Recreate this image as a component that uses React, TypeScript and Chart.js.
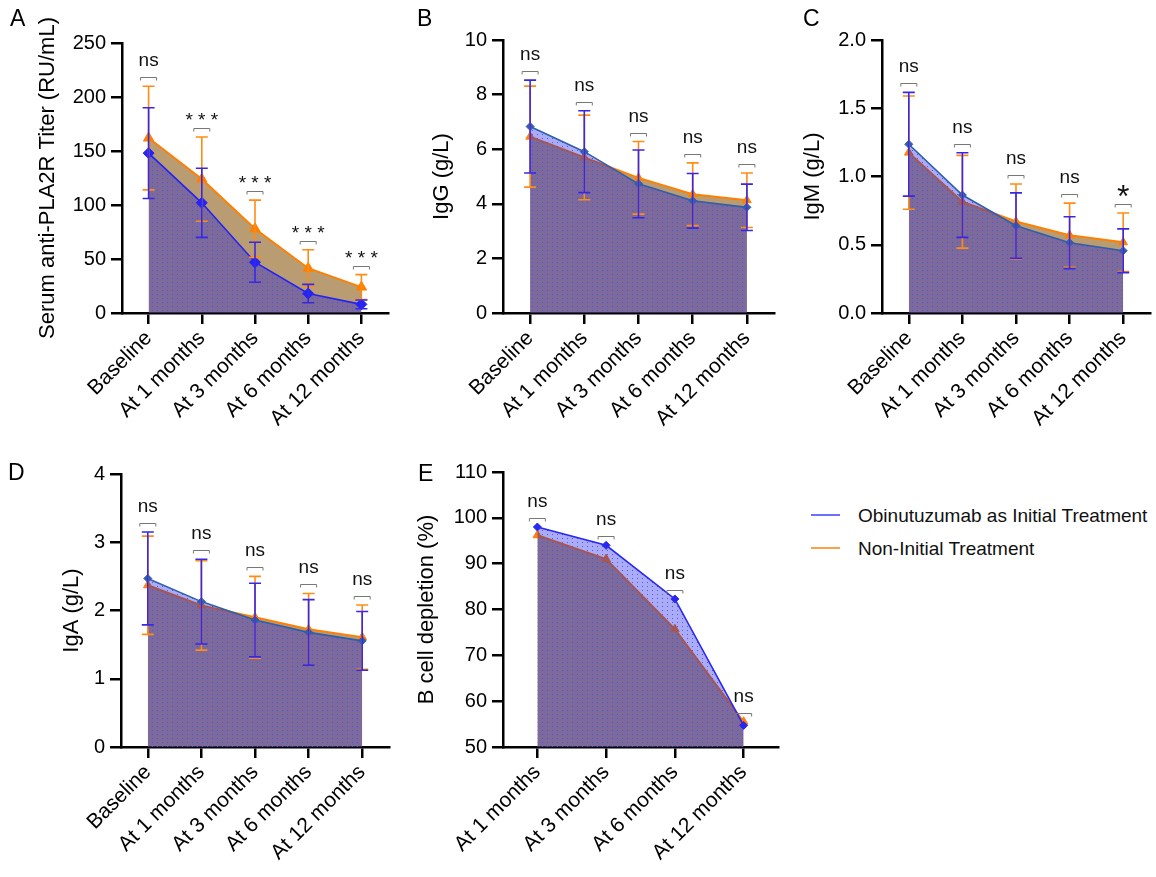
import React, { useEffect, useRef } from "react";
import { Chart, registerables } from "chart.js";
Chart.register(...registerables);

const FONT = '"Liberation Sans", Arial, Helvetica, sans-serif';

// ---------- DATA ----------
const timeLabels = ["Baseline", "At 1 months", "At 3 months", "At 6 months", "At 12 months"];
const depletionLabels = ["At 1 months", "At 3 months", "At 6 months", "At 12 months"];
const seriesNames = ["Obinutuzumab as Initial Treatment", "Non-Initial Treatment"];

const pla2rInitial = [148, 102, 47, 18, 8];
const pla2rInitialSD = [42, 32, 18.5, 8.5, 4];
const pla2rNonInitial = [162, 124, 78, 41.5, 24];
const pla2rNonInitialSD = [48, 39, 26.5, 17, 11.5];
const pla2rSig = ["ns", "* * *", "* * *", "* * *", "* * *"];

const iggInitial = [6.83, 5.91, 4.73, 4.11, 3.87];
const iggInitialSD = [1.7, 1.5, 1.24, 1.0, 0.85];
const iggNonInitial = [6.46, 5.7, 4.95, 4.35, 4.13];
const iggNonInitialSD = [1.85, 1.55, 1.33, 1.15, 1.0];
const iggSig = ["ns", "ns", "ns", "ns", "ns"];

const igmInitial = [1.236, 0.864, 0.64, 0.515, 0.456];
const igmInitialSD = [0.38, 0.31, 0.24, 0.19, 0.16];
const igmNonInitial = [1.175, 0.815, 0.67, 0.57, 0.518];
const igmNonInitialSD = [0.415, 0.34, 0.275, 0.235, 0.215];
const igmSig = ["ns", "ns", "ns", "ns", "*"];

const igaInitial = [2.47, 2.13, 1.86, 1.68, 1.555];
const igaInitialSD = [0.68, 0.62, 0.54, 0.48, 0.43];
const igaNonInitial = [2.37, 2.075, 1.9, 1.725, 1.61];
const igaNonInitialSD = [0.72, 0.655, 0.6, 0.525, 0.47];
const igaSig = ["ns", "ns", "ns", "ns", "ns"];

const depletionInitial = [98.0, 94.0, 82.3, 54.7];
const depletionNonInitial = [96.2, 91.0, 75.7, 55.5];
const depletionSig = ["ns", "ns", "ns", "ns"];

// ---------- PANELS ----------
type Panel = {
  letter: string;
  letterPos: [number, number];
  box: { left: number; top: number; width: number; height: number };
  area: { left: number; top: number; right: number; bottom: number };
  titleCenterX: number;
  title: string;
  labels: string[];
  initial: number[];
  initialSD?: number[];
  non: number[];
  nonSD?: number[];
  sig: string[];
  min: number;
  max: number;
  step: number;
  decimals: number;
  blue: string;
  blueR: number;
  orangeR: number;
};

const panels: Panel[] = [
  {
    letter: "A", letterPos: [10, 7],
    box: { left: 0, top: 0, width: 395, height: 440 },
    area: { left: 122, top: 43, right: 392, bottom: 313 },
    titleCenterX: 48, title: "Serum anti-PLA2R Titer (RU/mL)",
    labels: timeLabels, initial: pla2rInitial, initialSD: pla2rInitialSD,
    non: pla2rNonInitial, nonSD: pla2rNonInitialSD, sig: pla2rSig,
    min: 0, max: 250, step: 50, decimals: 0,
    blue: "rgb(35,35,245)", blueR: 5.5, orangeR: 6,
  },
  {
    letter: "B", letterPos: [417, 7],
    box: { left: 395, top: 0, width: 385, height: 440 },
    area: { left: 503, top: 40, right: 776, bottom: 313 },
    titleCenterX: 442, title: "IgG (g/L)",
    labels: timeLabels, initial: iggInitial, initialSD: iggInitialSD,
    non: iggNonInitial, nonSD: iggNonInitialSD, sig: iggSig,
    min: 0, max: 10, step: 2, decimals: 0,
    blue: "rgb(45,95,175)", blueR: 4, orangeR: 5,
  },
  {
    letter: "C", letterPos: [803, 7],
    box: { left: 780, top: 0, width: 376, height: 440 },
    area: { left: 882, top: 40, right: 1155, bottom: 313 },
    titleCenterX: 813, title: "IgM (g/L)",
    labels: timeLabels, initial: igmInitial, initialSD: igmInitialSD,
    non: igmNonInitial, nonSD: igmNonInitialSD, sig: igmSig,
    min: 0, max: 2, step: 0.5, decimals: 1,
    blue: "rgb(45,95,175)", blueR: 4, orangeR: 5,
  },
  {
    letter: "D", letterPos: [8, 461],
    box: { left: 0, top: 440, width: 395, height: 437 },
    area: { left: 121, top: 474, right: 393, bottom: 747 },
    titleCenterX: 72, title: "IgA (g/L)",
    labels: timeLabels, initial: igaInitial, initialSD: igaInitialSD,
    non: igaNonInitial, nonSD: igaNonInitialSD, sig: igaSig,
    min: 0, max: 4, step: 1, decimals: 0,
    blue: "rgb(45,95,175)", blueR: 4, orangeR: 5,
  },
  {
    letter: "E", letterPos: [418, 462],
    box: { left: 395, top: 440, width: 395, height: 437 },
    area: { left: 503, top: 472, right: 778, bottom: 747 },
    titleCenterX: 427, title: "B cell depletion (%)",
    labels: depletionLabels, initial: depletionInitial,
    non: depletionNonInitial, sig: depletionSig,
    min: 50, max: 110, step: 10, decimals: 0,
    blue: "rgb(40,40,240)", blueR: 4, orangeR: 5,
  },
];

const ORANGE = "rgb(255,128,0)";

function makePattern(): CanvasPattern | string {
  const c = document.createElement("canvas");
  c.width = 5;
  c.height = 4;
  const g = c.getContext("2d");
  if (!g) return "rgba(0,0,235,0.33)";
  g.fillStyle = "rgba(0,0,235,0.33)";
  g.fillRect(0, 0, 5, 4);
  g.fillStyle = "rgba(60,90,230,0.95)";
  g.fillRect(2, 2, 1, 1);
  const pat = g.createPattern(c, "repeat");
  return pat || "rgba(0,0,235,0.33)";
}

const errorBarPlugin = {
  id: "errorBars",
  afterDatasetsDraw(chart: any) {
    const ctx = chart.ctx;
    const y = chart.scales.y;
    for (const i of [1, 0]) {
      const ds = chart.data.datasets[i];
      const sd: number[] | undefined = ds.sd;
      if (!sd) continue;
      const meta = chart.getDatasetMeta(i);
      ctx.save();
      ctx.strokeStyle = ds.errColor;
      ctx.lineWidth = 1.6;
      meta.data.forEach((pt: any, j: number) => {
        const v = ds.data[j];
        const s = sd[j];
        const yt = y.getPixelForValue(v + s);
        const yb = y.getPixelForValue(v - s);
        ctx.beginPath();
        ctx.moveTo(pt.x, yt);
        ctx.lineTo(pt.x, yb);
        ctx.moveTo(pt.x - 6, yt);
        ctx.lineTo(pt.x + 6, yt);
        ctx.moveTo(pt.x - 6, yb);
        ctx.lineTo(pt.x + 6, yb);
        ctx.stroke();
      });
      ctx.restore();
    }
  },
};

function sigPlugin(labels: string[]) {
  return {
    id: "sigMarks",
    afterDatasetsDraw(chart: any) {
      const ctx = chart.ctx;
      const y = chart.scales.y;
      const dss = chart.data.datasets;
      const meta0 = chart.getDatasetMeta(0);
      labels.forEach((lab, j) => {
        const x = meta0.data[j].x;
        let top = Infinity;
        dss.forEach((d: any) => {
          const v = d.data[j] + (d.sd ? d.sd[j] : 0);
          top = Math.min(top, y.getPixelForValue(v));
        });
        const by = Math.round(top - 9) + 0.5;
        ctx.save();
        ctx.strokeStyle = "#777";
        ctx.lineWidth = 1;
        ctx.beginPath();
        ctx.moveTo(x - 8, by + 3);
        ctx.lineTo(x - 8, by);
        ctx.lineTo(x + 8, by);
        ctx.lineTo(x + 8, by + 3);
        ctx.stroke();
        ctx.fillStyle = "#111";
        ctx.textAlign = "center";
        ctx.textBaseline = "alphabetic";
        if (lab === "ns") {
          ctx.font = `19px ${FONT}`;
          ctx.fillText(lab, x, by - 12);
        } else if (lab.length > 1) {
          ctx.font = `19px ${FONT}`;
          ctx.fillText(lab, x, by - 3);
        } else {
          ctx.font = `32px ${FONT}`;
          ctx.fillText(lab, x, by + 2);
        }
        ctx.restore();
      });
    },
  };
}

function PanelChart({ p }: { p: Panel }) {
  const ref = useRef<HTMLCanvasElement | null>(null);
  useEffect(() => {
    const canvas = ref.current;
    if (!canvas) return;
    const pattern = makePattern();
    const titleSize = 22;
    const titlePad = p.titleCenterX - p.box.left - (titleSize * 1.2) / 2;
    const zeroPad = (s: any) => {
      s.paddingLeft = 0;
      s.paddingRight = 0;
      s.paddingTop = 0;
      s.paddingBottom = 0;
    };
    const chart = new Chart(canvas, {
      type: "line",
      data: {
        labels: p.labels,
        datasets: [
          {
            label: seriesNames[0],
            data: p.initial,
            sd: p.initialSD,
            errColor: "rgb(55,40,230)",
            borderColor: p.blue,
            borderWidth: 1.6,
            backgroundColor: pattern as any,
            fill: "start",
            tension: 0,
            pointStyle: "rectRot",
            pointRadius: p.blueR,
            pointBackgroundColor: p.blue,
            pointBorderColor: p.blue,
            pointBorderWidth: 1,
          } as any,
          {
            label: seriesNames[1],
            data: p.non,
            sd: p.nonSD,
            errColor: "rgb(255,140,20)",
            borderColor: ORANGE,
            borderWidth: 2,
            backgroundColor: "rgba(140,90,20,0.6)",
            fill: "start",
            tension: 0,
            pointStyle: "triangle",
            pointRadius: p.orangeR,
            pointBackgroundColor: ORANGE,
            pointBorderColor: ORANGE,
            pointBorderWidth: 1,
          } as any,
        ],
      },
      options: {
        animation: false,
        responsive: false,
        maintainAspectRatio: false,
        events: [],
        layout: {
          padding: {
            left: 0,
            top: p.area.top - p.box.top,
            right: p.box.left + p.box.width - p.area.right,
            bottom: 0,
          },
        },
        plugins: { legend: { display: false }, tooltip: { enabled: false } },
        scales: {
          x: {
            type: "category",
            offset: true,
            grid: {
              display: true,
              drawOnChartArea: false,
              drawTicks: true,
              tickLength: 11,
              color: "#000",
              lineWidth: 2.5,
              offset: false,
            },
            border: { display: true, color: "#000", width: 2.5 },
            ticks: {
              color: "#000",
              font: { family: FONT, size: 21 },
              maxRotation: 45,
              minRotation: 45,
              autoSkip: false,
              padding: 2,
            },
            afterFit: (s: any) => {
              s.height = p.box.top + p.box.height - p.area.bottom;
              zeroPad(s);
            },
          },
          y: {
            type: "linear",
            min: p.min,
            max: p.max,
            grid: {
              display: true,
              drawOnChartArea: false,
              drawTicks: true,
              tickLength: 11,
              color: "#000",
              lineWidth: 2.5,
            },
            border: { display: true, color: "#000", width: 2.5 },
            ticks: {
              stepSize: p.step,
              color: "#000",
              font: { family: FONT, size: 20 },
              padding: 5,
              callback: (v: any) => Number(v).toFixed(p.decimals),
            },
            title: {
              display: true,
              text: p.title,
              color: "#000",
              font: { family: FONT, size: titleSize },
              padding: { top: titlePad, bottom: 0 },
            },
            afterFit: (s: any) => {
              s.width = p.area.left - p.box.left;
              zeroPad(s);
            },
          },
        },
      } as any,
      plugins: [errorBarPlugin, sigPlugin(p.sig)],
    });
    return () => chart.destroy();
  }, [p]);
  return (
    <canvas
      ref={ref}
      width={p.box.width}
      height={p.box.height}
      style={{
        position: "absolute",
        left: p.box.left,
        top: p.box.top,
        width: p.box.width,
        height: p.box.height,
      }}
    />
  );
}

export default function App() {
  const legendItems = [
    { name: seriesNames[0], color: "rgb(110,110,255)", y: 515 },
    { name: seriesNames[1], color: "rgb(255,160,70)", y: 548 },
  ];
  return (
    <div
      style={{
        position: "fixed",
        left: 0,
        top: 0,
        width: 1156,
        height: 877,
        background: "#fff",
        overflow: "hidden",
        fontFamily: FONT,
      }}
    >
      {panels.map((p) => (
        <PanelChart key={p.letter} p={p} />
      ))}
      {panels.map((p) => (
        <div
          key={"l" + p.letter}
          style={{
            position: "absolute",
            left: p.letterPos[0],
            top: p.letterPos[1],
            fontSize: 23,
            lineHeight: "23px",
            color: "#000",
          }}
        >
          {p.letter}
        </div>
      ))}
      {legendItems.map((it) => (
        <React.Fragment key={it.name}>
          <div
            style={{
              position: "absolute",
              left: 811,
              top: it.y - 1,
              width: 29,
              height: 2,
              background: it.color,
            }}
          />
          <div
            style={{
              position: "absolute",
              left: 858,
              top: it.y - 9,
              fontSize: 19,
              lineHeight: "19px",
              color: "#111",
              whiteSpace: "nowrap",
            }}
          >
            {it.name}
          </div>
        </React.Fragment>
      ))}
    </div>
  );
}
